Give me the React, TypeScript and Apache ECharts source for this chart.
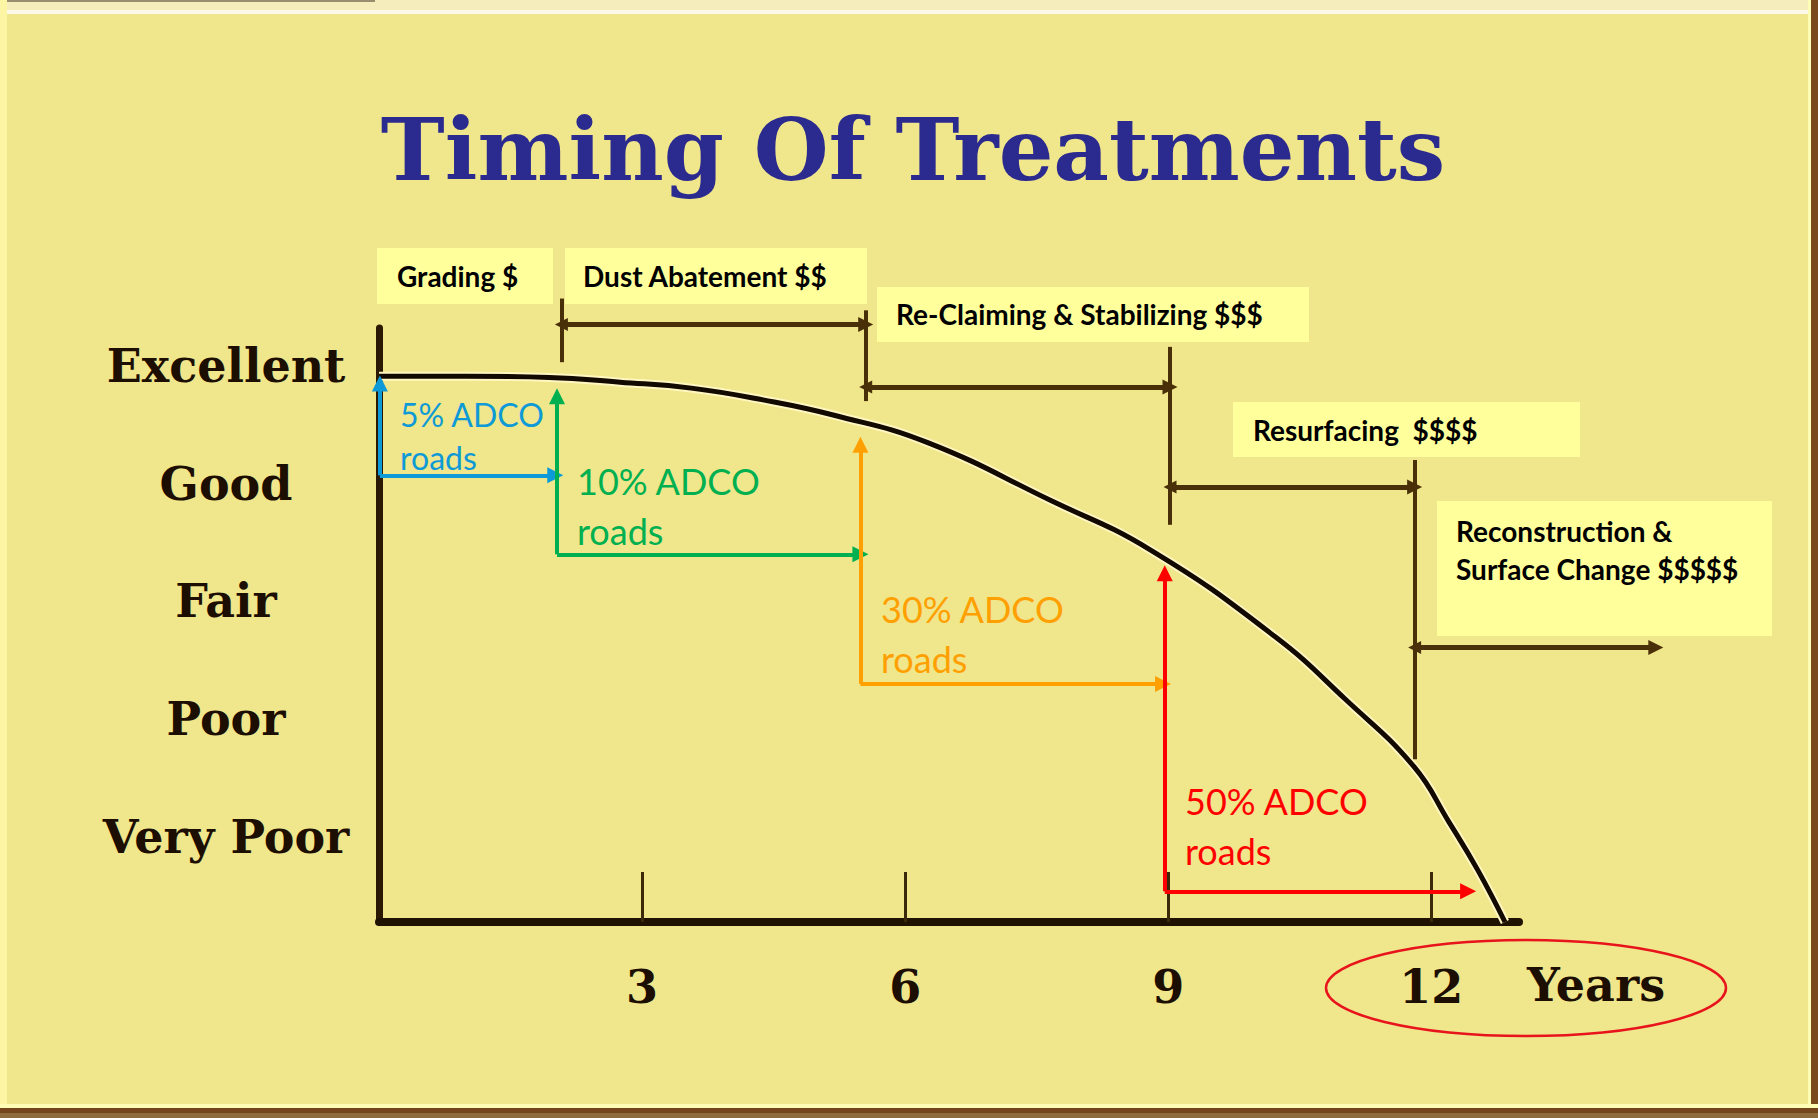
import React, { useEffect, useRef } from 'react';
import * as echarts from 'echarts';

// ---------------- data ----------------
const conditionLabels = ['Very Poor', 'Poor', 'Fair', 'Good', 'Excellent'];
const conditionValues = [1, 2, 3, 4, 5];
const yearTickValues = [3, 6, 9, 12];

// deterioration curve (years, condition)
const curveYears = [0, 1.0, 1.94, 2.75, 3.56, 4.38, 5.19, 6.25, 7.65, 8.79, 10.22, 11.02, 11.8, 12.2, 12.53, 12.84];
const curveCondition = [4.91, 4.91, 4.9, 4.86, 4.81, 4.71, 4.58, 4.35, 3.86, 3.44, 2.7, 2.17, 1.6, 1.13, 0.72, 0.28];

// treatment windows
const treatmentNames = ['Grading $', 'Dust Abatement $$', 'Re-Claiming & Stabilizing $$$', 'Resurfacing  $$$$', 'Reconstruction &\nSurface Change $$$$$'];
const treatmentStartYear = [2.08, 5.55, 9.02, 11.81];
const treatmentEndYear = [5.55, 9.02, 11.81, 14.56];
const treatmentArrowLevel = [5.35, 4.82, 3.97, 2.61];
const markerYear = [2.08, 5.55, 9.02, 11.81];
const markerTop = [5.57, 5.47, 5.16, 4.2];
const markerBottom = [5.03, 4.7, 3.65, 1.66];

// ADCO share arrows
const adcoLabels = ['5% ADCO', '10% ADCO', '30% ADCO', '50% ADCO'];
const adcoSecondLine = ['roads', 'roads', 'roads', 'roads'];
const adcoCornerYear = [0.01, 2.03, 5.49, 8.96];
const adcoCornerLevel = [4.07, 3.4, 2.3, 0.54];
const adcoUpLevel = [4.85, 4.74, 4.33, 3.24];
const adcoRightYear = [2.01, 5.49, 8.94, 12.42];

// ---------------- layout / style ----------------
const W = 1818;
const H = 1118;
const adcoColors = ['#0E9AD6', '#00B050', '#FFA000', '#FF0000'];
const adcoText = [
  { x: 400, y1: 414, y2: 457, size: 32 },
  { x: 577, y1: 481, y2: 531, size: 36 },
  { x: 881, y1: 609, y2: 659, size: 36 },
  { x: 1185, y1: 801, y2: 851, size: 36 },
];
const boxLayout = [
  { x: 377, y: 248, w: 176, h: 56, tx: 397, ty: [276] },
  { x: 565, y: 248, w: 302, h: 56, tx: 583, ty: [276] },
  { x: 877, y: 287, w: 432, h: 55, tx: 896, ty: [314] },
  { x: 1233, y: 402, w: 347, h: 55, tx: 1253, ty: [430] },
  { x: 1437, y: 501, w: 335, h: 135, tx: 1456, ty: [531, 569] },
];
const BRACKET = '#4a3008';
const SERIF = '"DejaVu Serif", serif';
const INK = '#1c0e00';

function buildOption() {
  const curve = curveYears.map((x, i) => [x, curveCondition[i]]);

  const graphic: any[] = [];
  // frame
  graphic.push({ type: 'rect', shape: { x: 0, y: 0, width: W, height: 10 }, style: { fill: '#F5EDBC' }, silent: true });
  graphic.push({ type: 'rect', shape: { x: 0, y: 0, width: 375, height: 2 }, style: { fill: '#9a8e70' }, silent: true });
  graphic.push({ type: 'rect', shape: { x: 0, y: 10, width: W, height: 4 }, style: { fill: '#FCF9E8' }, silent: true });
  graphic.push({ type: 'rect', shape: { x: 0, y: 0, width: 7, height: H }, style: { fill: '#FBF5A4' }, silent: true });
  graphic.push({ type: 'rect', shape: { x: 1808, y: 0, width: 3, height: H }, style: { fill: '#FFFDB5' }, silent: true });
  graphic.push({ type: 'rect', shape: { x: 1811, y: 0, width: 7, height: H }, style: { fill: '#7A4A1E' }, silent: true });
  graphic.push({ type: 'rect', shape: { x: 0, y: 1104, width: W, height: 4 }, style: { fill: '#FFFDB5' }, silent: true });
  graphic.push({ type: 'rect', shape: { x: 0, y: 1108, width: W, height: 5 }, style: { fill: '#74451D' }, silent: true });
  graphic.push({ type: 'rect', shape: { x: 0, y: 1113, width: W, height: 5 }, style: { fill: '#8E6B3C' }, silent: true });

  // title
  graphic.push({
    type: 'text', x: 913, y: 149, z: 10, silent: true,
    style: { text: 'Timing Of Treatments', fill: '#2B2A8E', font: `bold 86px ${SERIF}`, textAlign: 'center', textVerticalAlign: 'middle' },
  });

  // treatment boxes
  treatmentNames.forEach((name, i) => {
    const b = boxLayout[i];
    graphic.push({ type: 'rect', z: 2, silent: true, shape: { x: b.x, y: b.y, width: b.w, height: b.h }, style: { fill: '#FFFF9C' } });
    name.split('\n').forEach((line, k) => {
      graphic.push({
        type: 'text', x: b.tx, y: b.ty[k], z: 10, silent: true,
        style: { text: line, fill: '#000000', font: 'bold 28px Lato', textAlign: 'left', textVerticalAlign: 'middle' },
      });
    });
  });

  // ADCO labels
  adcoLabels.forEach((t, i) => {
    const p = adcoText[i];
    graphic.push({
      type: 'text', x: p.x, y: p.y1, z: 10, silent: true,
      style: { text: t, fill: adcoColors[i], font: `${p.size}px Lato`, textAlign: 'left', textVerticalAlign: 'middle' },
    });
    graphic.push({
      type: 'text', x: p.x, y: p.y2, z: 10, silent: true,
      style: { text: adcoSecondLine[i], fill: adcoColors[i], font: `${p.size}px Lato`, textAlign: 'left', textVerticalAlign: 'middle' },
    });
  });

  // ellipse around "12 Years"
  graphic.push({
    type: 'ellipse', z: 10, silent: true,
    shape: { cx: 1526, cy: 988, rx: 200, ry: 48 },
    style: { fill: 'none', stroke: '#E8141C', lineWidth: 2.5 },
  });

  const series: any[] = [
    {
      type: 'line', data: curve, smooth: 0.45, symbol: 'none', silent: true, z: 3,
      lineStyle: { color: '#FFF6C0', width: 9 },
    },
    {
      type: 'line', data: curve, smooth: 0.45, symbol: 'none', silent: true, z: 4,
      lineStyle: { color: '#120900', width: 5 },
    },
    {
      type: 'lines', coordinateSystem: 'cartesian2d', clip: false, silent: true, z: 5,
      symbol: 'none',
      lineStyle: { color: BRACKET, width: 4, opacity: 1 },
      data: markerYear.map((x, i) => ({ coords: [[x, markerTop[i]], [x, markerBottom[i]]] })),
    },
    {
      type: 'lines', coordinateSystem: 'cartesian2d', clip: false, silent: true, z: 5,
      symbol: ['triangle', 'triangle'], symbolSize: [13, 15],
      lineStyle: { color: BRACKET, width: 5, opacity: 1 },
      data: treatmentStartYear.map((x, i) => ({
        coords: [[x, treatmentArrowLevel[i]], [treatmentEndYear[i], treatmentArrowLevel[i]]],
      })),
    },
  ];

  adcoLabels.forEach((_, i) => {
    series.push({
      type: 'lines', coordinateSystem: 'cartesian2d', clip: false, silent: true, z: 6,
      symbol: ['none', 'triangle'], symbolSize: [13, 16],
      lineStyle: { color: adcoColors[i], width: 4, opacity: 1 },
      data: [
        { coords: [[adcoCornerYear[i], adcoCornerLevel[i]], [adcoCornerYear[i], adcoUpLevel[i]]] },
        { coords: [[adcoCornerYear[i], adcoCornerLevel[i]], [adcoRightYear[i], adcoCornerLevel[i]]] },
      ],
    });
  });

  return {
    animation: false,
    backgroundColor: '#F0E68C',
    grid: { left: 379, right: W - 1519, top: 328, bottom: H - 922, containLabel: false },
    xAxis: {
      type: 'value', min: 0, max: 13,
      name: 'Years', nameLocation: 'end', nameGap: 8,
      nameTextStyle: { fontFamily: SERIF, fontWeight: 'bold', fontSize: 46, color: INK, verticalAlign: 'top', lineHeight: 126, align: 'left' },
      axisLine: { show: true, onZero: false, lineStyle: { color: '#1f1200', width: 8 } },
      axisTick: { show: true, inside: true, length: 50, customValues: yearTickValues, lineStyle: { color: '#3b2a0a', width: 3 } },
      axisLabel: { show: true, customValues: yearTickValues, margin: 42, fontFamily: SERIF, fontWeight: 'bold', fontSize: 46, color: INK },
      splitLine: { show: false },
    },
    yAxis: {
      type: 'value', min: 0.28, max: 5.32,
      axisLine: { show: true, onZero: false, lineStyle: { color: '#2b1800', width: 7 } },
      axisTick: { show: false },
      axisLabel: {
        show: true, customValues: conditionValues,
        formatter: (v: number) => conditionLabels[conditionValues.indexOf(Math.round(v))] || '',
        align: 'center', margin: 153, fontFamily: SERIF, fontWeight: 'bold', fontSize: 46, color: INK,
      },
      splitLine: { show: false },
    },
    series,
    graphic,
  };
}

export default function App() {
  const ref = useRef<HTMLDivElement>(null);
  useEffect(() => {
    if (!ref.current) return;
    const chart = echarts.init(ref.current, undefined, { renderer: 'svg' });
    chart.setOption(buildOption() as any);
    return () => chart.dispose();
  }, []);
  return <div ref={ref} style={{ position: 'fixed', left: 0, top: 0, width: W, height: H }} />;
}
